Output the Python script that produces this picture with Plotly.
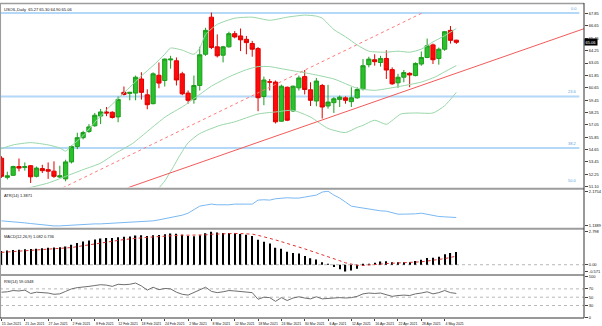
import plotly.graph_objects as go
import pandas as pd

# ---------------- data ----------------
dates = pd.bdate_range("2021-01-15", "2021-05-06")
dates = dates[dates != pd.Timestamp("2021-04-02")]
bar_index = list(range(len(dates)))

opens = [53.81, 51.95, 52.15, 53.0, 52.9, 53.08, 52.05, 52.8, 52.7, 52.55,
         51.98, 51.8, 53.45, 54.94, 55.8, 56.4, 56.96, 57.9, 58.3, 58.27,
         57.82, 60.2, 60.1, 60.13, 61.5, 59.96, 59.1, 61.86, 61.35, 63.35,
         63.27, 62.0, 60.13, 59.5, 60.87, 63.9, 67.5, 64.62, 63.81, 64.62,
         65.9, 65.68, 65.35, 64.94, 64.45, 59.8, 61.22, 61.2, 57.4, 60.7,
         58.4, 60.64, 61.73, 60.45, 59.36, 60.87, 58.88, 59.2, 59.52, 59.67,
         59.3, 59.67, 60.54, 62.89, 63.37, 63.1, 63.49, 62.41, 61.13, 61.67,
         62.05, 61.83, 62.95, 63.59, 64.81, 63.49, 64.39, 66.22, 65.27]
highs = [54.0, 52.5, 53.08, 53.78, 53.4, 53.15, 53.0, 53.17, 53.4, 53.5,
         53.08, 53.66, 55.05, 56.28, 56.47, 57.12, 58.2, 58.59, 58.78, 58.37,
         59.8, 60.77, 60.25, 61.83, 62.15, 60.5, 62.15, 63.1, 63.49, 63.75,
         63.59, 62.2, 60.38, 61.83, 64.62, 66.47, 67.95, 65.83, 64.72, 66.09,
         66.15, 66.4, 65.68, 65.2, 64.6, 61.73, 61.5, 61.35, 60.95, 60.76,
         60.86, 61.83, 62.37, 61.18, 61.6, 61.02, 60.93, 59.74, 59.9, 59.81,
         60.7, 60.7, 63.43, 63.66, 63.9, 63.75, 64.29, 62.63, 62.0, 62.37,
         62.15, 63.11, 64.17, 65.42, 64.94, 64.55, 66.16, 66.64, 65.30]
lows = [51.9, 51.75, 52.1, 52.53, 52.6, 51.4, 51.95, 52.37, 51.8, 51.9,
        51.88, 51.57, 53.3, 54.68, 55.64, 56.28, 56.86, 57.12, 57.89, 57.66,
        57.3, 59.9, 59.43, 59.43, 59.5, 58.56, 59.04, 60.6, 60.77, 62.5,
        60.87, 59.93, 59.1, 59.1, 60.38, 63.75, 64.4, 63.59, 63.11, 64.55,
        65.45, 64.2, 63.9, 63.66, 58.37, 58.95, 60.38, 57.18, 57.34, 57.41,
        58.3, 60.38, 60.0, 58.88, 58.85, 57.66, 58.62, 58.2, 58.78, 59.1,
        58.78, 59.58, 60.38, 62.63, 62.79, 62.7, 61.5, 60.93, 60.64, 61.18,
        60.7, 61.76, 62.79, 63.52, 62.95, 62.89, 64.23, 64.94, 64.90]
closes = [52.05, 52.1, 53.0, 52.85, 53.0, 52.0, 52.85, 52.6, 52.55, 52.05,
          52.1, 53.45, 54.94, 55.8, 56.3, 56.85, 57.98, 58.3, 58.2, 57.76,
          59.52, 60.0, 60.2, 61.67, 60.2, 59.0, 62.0, 61.1, 63.43, 63.43,
          61.4, 60.06, 59.43, 60.87, 63.85, 66.22, 64.55, 63.75, 64.62, 65.9,
          65.58, 65.3, 65.03, 64.39, 59.68, 61.4, 61.2, 57.34, 60.8, 57.5,
          60.8, 61.6, 60.48, 59.43, 61.3, 58.78, 59.26, 59.58, 59.74, 59.43,
          59.67, 60.48, 62.79, 63.43, 63.18, 63.49, 62.37, 61.03, 61.67, 62.12,
          61.89, 63.01, 63.59, 64.72, 63.37, 64.39, 66.09, 65.25, 65.06]

bb_upper_bars = [-0.3, 2, 5, 8, 10, 11, 12, 14, 16, 18, 20, 22, 24, 26, 28, 29, 31, 33, 34, 35,
                 37, 40, 43, 46, 49, 52, 54, 55, 57, 59, 61, 63, 66, 68, 70, 72, 74, 76, 78]
bb_upper = [54.68, 55.1, 55.32, 55.1, 54.8, 54.5, 55.0, 56.0, 57.3, 58.5, 59.6, 60.7, 61.8, 62.8,
            63.9, 64.5, 64.3, 63.9, 64.5, 65.8, 66.8, 67.4, 67.5, 67.2, 67.5, 67.7, 67.6, 67.4,
            66.3, 65.6, 64.8, 64.2, 64.1, 64.2, 64.1, 64.4, 65.1, 65.7, 66.4]
bb_mid_bars = [-0.3, 4.5, 8, 11, 14, 17, 19.6, 22.5, 25.3, 28.1, 31.3, 34, 36, 39, 42, 44, 46, 48,
               50, 53, 57, 61, 64, 67.5, 72, 74.4, 76, 78]
bb_mid = [50.2, 50.9, 51.4, 52.05, 52.7, 53.33, 54.29, 55.25, 56.54, 57.82, 58.9, 60.0, 60.8, 61.7,
          62.4, 62.7, 62.7, 62.5, 62.3, 62.0, 61.5, 60.6, 60.4, 60.7, 61.2, 61.7, 62.2, 62.8]
bb_lower_bars = [26.5, 28, 29.5, 30.5, 32, 34, 37.5, 40, 44, 47, 50, 53, 56, 59, 61, 62, 64, 66,
                 68.5, 71, 74, 76, 78]
bb_lower = [50.6, 51.6, 53.0, 54.0, 55.3, 56.2, 57.0, 57.34, 58.1, 58.3, 58.45, 57.8, 56.7, 56.3,
            56.8, 57.0, 57.5, 57.1, 58.1, 58.2, 58.2, 58.9, 60.2]

support_bars = [21.6, 100.5]
support_prices = [50.93, 66.50]
channel_bars = [10.5, 72.5]
channel_prices = [50.93, 68.0]

fib_high, fib_low = 67.9, 33.6
fib_ratios = [0.0, 23.6, 38.2, 50.0]

atr = [1.29, 1.28, 1.27, 1.26, 1.23, 1.21, 1.19, 1.17, 1.15, 1.1389,
       1.14, 1.15, 1.17, 1.19, 1.20, 1.20, 1.20, 1.20, 1.21, 1.22,
       1.23, 1.24, 1.23, 1.24, 1.25, 1.27, 1.29, 1.32, 1.35, 1.38,
       1.41, 1.46, 1.52, 1.62, 1.73, 1.76, 1.79, 1.77, 1.76, 1.77,
       1.79, 1.80, 1.79, 1.79, 1.91, 1.92, 1.91, 1.95, 1.97, 1.98,
       1.97, 1.97, 2.00, 2.03, 2.06, 2.15, 2.1754, 2.06, 1.97, 1.85,
       1.73, 1.70, 1.67, 1.64, 1.61, 1.59, 1.58, 1.54, 1.49, 1.49,
       1.49, 1.50, 1.52, 1.48, 1.44, 1.42, 1.41, 1.40, 1.39]
macd = [1.17, 1.20, 1.25, 1.28, 1.32, 1.33, 1.36, 1.40, 1.44, 1.46,
        1.48, 1.55, 1.70, 1.85, 1.97, 2.05, 2.15, 2.22, 2.27, 2.28,
        2.33, 2.37, 2.40, 2.48, 2.50, 2.45, 2.50, 2.52, 2.60, 2.66,
        2.64, 2.55, 2.45, 2.42, 2.50, 2.68, 2.798, 2.75, 2.70, 2.70,
        2.68, 2.62, 2.55, 2.45, 2.12, 1.95, 1.80, 1.45, 1.35, 1.10,
        1.00, 0.95, 0.75, 0.55, 0.45, 0.20, 0.02, -0.20, -0.38, -0.571,
        -0.50, -0.35, -0.10, 0.05, 0.15, 0.28, 0.30, 0.22, 0.20, 0.22,
        0.22, 0.32, 0.42, 0.58, 0.60, 0.68, 0.88, 1.00, 1.082]
signal = [1.05, 1.08, 1.11, 1.14, 1.18, 1.21, 1.24, 1.27, 1.31, 1.34,
          1.37, 1.40, 1.46, 1.54, 1.62, 1.71, 1.80, 1.88, 1.96, 2.02,
          2.08, 2.14, 2.19, 2.25, 2.30, 2.33, 2.36, 2.40, 2.44, 2.48,
          2.51, 2.52, 2.51, 2.50, 2.50, 2.54, 2.59, 2.62, 2.64, 2.65,
          2.66, 2.65, 2.63, 2.60, 2.50, 2.39, 2.27, 2.11, 1.96, 1.79,
          1.63, 1.50, 1.35, 1.19, 1.04, 0.87, 0.70, 0.52, 0.34, 0.16,
          0.03, -0.05, -0.06, -0.04, -0.01, 0.05, 0.10, 0.12, 0.14, 0.16,
          0.17, 0.20, 0.25, 0.31, 0.37, 0.43, 0.52, 0.62, 0.736]
rsi = [62, 63, 66, 65, 67, 59, 62, 61, 60, 57,
       58, 64, 70, 73, 74, 76, 78, 80, 79, 76,
       81, 80, 81, 84, 77, 67, 74, 68, 71, 70,
       62, 57, 55, 62, 68, 74, 64, 61, 63, 66,
       65, 64, 63, 61, 45, 50, 49, 40, 49, 42,
       48, 51, 48, 46, 51, 46, 47, 48, 49, 48,
       49, 52, 58, 60, 59, 60, 56, 52, 54, 55,
       54, 58, 60, 63, 58, 61, 66, 61, 59.03]

date_tick_bars = list(range(0, 77, 4))
date_tick_labels = ["15 Jan 2021", "21 Jan 2021", "27 Jan 2021", "2 Feb 2021", "8 Feb 2021",
                    "12 Feb 2021", "18 Feb 2021", "24 Feb 2021", "2 Mar 2021", "8 Mar 2021",
                    "12 Mar 2021", "18 Mar 2021", "24 Mar 2021", "30 Mar 2021", "6 Apr 2021",
                    "12 Apr 2021", "16 Apr 2021", "22 Apr 2021", "28 Apr 2021", "4 May 2021"]
price_ticks = [51.10, 52.25, 53.45, 54.65, 55.85, 57.05, 58.25, 59.45, 60.65, 61.85,
               63.05, 64.25, 65.45, 66.65, 67.85]
atr_ticks = [2.1754, 1.1389]
macd_ticks = [2.798, 0.0, -0.571]
macd_ticktext = ["2.798", "0.00", "-0.571"]
rsi_ticks = [100, 70, 50, 30, 0]
rsi_levels = [70, 50, 30]
last_price = 65.06

header_main = "USOIL,Daily  65.27 65.30 64.90 65.06"
header_atr = "ATR(14) 1.3871"
header_macd = "MACD(12,26,9) 1.082 0.736"
header_rsi = "RSI(14) 59.0348"

# ---------------- figure ----------------
FONT = "Liberation Sans"
FS = 4.0
XFS = 3.5
xr = [-0.256, 99.9]
yr_main = [50.99, 68.78]

fig = go.Figure()
fig.add_trace(go.Candlestick(
    x=bar_index, open=opens, high=highs, low=lows, close=closes,
    xaxis="x", yaxis="y", whiskerwidth=0,
    increasing=dict(line=dict(color="#1c9c1c", width=1), fillcolor="#2ac22a"),
    decreasing=dict(line=dict(color="#e00000", width=1), fillcolor="#ff0a0a"),
    hoverinfo="skip", showlegend=False))

band_style = dict(color="#98d6a8", width=1, shape="spline", smoothing=0.6)
for bx, by in [(bb_upper_bars, bb_upper), (bb_mid_bars, bb_mid), (bb_lower_bars, bb_lower)]:
    fig.add_trace(go.Scatter(x=bx, y=by, mode="lines", line=band_style,
                             xaxis="x", yaxis="y", hoverinfo="skip", showlegend=False))

fig.add_trace(go.Scatter(x=support_bars, y=support_prices, mode="lines",
                         line=dict(color="#f25a5a", width=1), xaxis="x", yaxis="y",
                         hoverinfo="skip", showlegend=False))
fig.add_trace(go.Scatter(x=channel_bars, y=channel_prices, mode="lines",
                         line=dict(color="#ff7a7a", width=1, dash="dot"), xaxis="x", yaxis="y",
                         hoverinfo="skip", showlegend=False))

fig.add_trace(go.Scatter(x=bar_index, y=atr, mode="lines", line=dict(color="#7ab8f2", width=1),
                         xaxis="x2", yaxis="y2", hoverinfo="skip", showlegend=False))

fig.add_trace(go.Bar(x=bar_index, y=macd, width=0.22, marker=dict(color="#000000", line=dict(width=0)),
                     xaxis="x3", yaxis="y3", hoverinfo="skip", showlegend=False))
fig.add_trace(go.Scatter(x=bar_index, y=signal, mode="lines",
                         line=dict(color="#e23030", width=1, dash="dot"),
                         xaxis="x3", yaxis="y3", hoverinfo="skip", showlegend=False))

fig.add_trace(go.Scatter(x=bar_index, y=rsi, mode="lines", line=dict(color="#6e6e6e", width=1),
                         xaxis="x4", yaxis="y4", hoverinfo="skip", showlegend=False))

PH = 318.0
def dom(top_px, bot_px):
    return [(PH - bot_px) / PH, (PH - top_px) / PH]

def ypx(px):
    return (PH - px) / PH

base_x = dict(range=xr, showgrid=False, zeroline=False, showline=False, fixedrange=True)
yfont = dict(family=FONT, size=FS, color="#111")
base_y = dict(side="right", showgrid=False, zeroline=False, showline=False, ticks="outside",
              ticklen=3, tickwidth=1, tickcolor="#444", tickfont=yfont, fixedrange=True)

fig.update_layout(
    width=602, height=326, autosize=False,
    margin=dict(l=0, r=14, t=0, b=8, pad=0),
    paper_bgcolor="white", plot_bgcolor="white",
    hovermode=False, showlegend=False,
    boxgap=0.15, boxgroupgap=0.15,
    xaxis=dict(base_x, domain=[0, 1], anchor="y", showticklabels=False, matches="x4",
               rangeslider=dict(visible=False)),
    xaxis2=dict(base_x, domain=[0, 1], anchor="y2", showticklabels=False, matches="x4"),
    xaxis3=dict(base_x, domain=[0, 1], anchor="y3", showticklabels=False, matches="x4"),
    xaxis4=dict(base_x, domain=[0, 1], anchor="y4", tickmode="array",
                tickvals=date_tick_bars, ticktext=date_tick_labels, ticks="outside",
                ticklen=2, tickcolor="#444", tickangle=0,
                tickfont=dict(family=FONT, size=XFS, color="#111"),
                ticklabelshift=10, ticklabelstandoff=0),
    yaxis=dict(base_y, domain=dom(1, 186), anchor="x", range=yr_main,
               tickmode="array", tickvals=price_ticks, ticktext=[f"{v:.2f}" for v in price_ticks]),
    yaxis2=dict(base_y, domain=dom(189, 227), anchor="x2", range=[1.081, 2.205],
                tickmode="array", tickvals=atr_ticks, ticktext=[f"{v:.4f}" for v in atr_ticks]),
    yaxis3=dict(base_y, domain=dom(229, 273), anchor="x3", range=[-0.74, 2.966],
                tickmode="array", tickvals=macd_ticks, ticktext=macd_ticktext),
    yaxis4=dict(base_y, domain=dom(276, 318), anchor="x4", range=[0, 100],
                tickmode="array", tickvals=rsi_ticks, ticktext=[str(v) for v in rsi_ticks]),
)

shapes = []
fib_end = xr[0] + 0.992 * (xr[1] - xr[0])
annotations = []
for r in fib_ratios:
    lvl = fib_high - r / 100.0 * (fib_high - fib_low)
    shapes.append(dict(type="line", xref="x", yref="y", x0=xr[0], x1=fib_end, y0=lvl, y1=lvl,
                       line=dict(color="#b3d8f8", width=2), layer="below"))
    label_y = max(lvl, yr_main[0] + 0.2)
    annotations.append(dict(xref="paper", yref="y", x=0.992, y=label_y, xanchor="right",
                            yanchor="bottom", text=f"{r:.1f}", showarrow=False,
                            font=dict(family=FONT, size=FS, color="#5a9fe0")))
for lv in rsi_levels:
    shapes.append(dict(type="line", xref="x4 domain", yref="y4", x0=0, x1=1, y0=lv, y1=lv,
                       line=dict(color="#b8b8b8", width=1, dash="dot"), layer="below"))
shapes.append(dict(type="line", xref="x3 domain", yref="y3", x0=0, x1=1, y0=0, y1=0,
                   line=dict(color="#b8b8b8", width=1, dash="dot"), layer="below"))
for py in [187.5, 228.0, 274.5]:
    shapes.append(dict(type="line", xref="paper", yref="paper", x0=0, x1=1, y0=ypx(py), y1=ypx(py),
                       line=dict(color="#9c9c9c", width=2)))
shapes.append(dict(type="line", xref="paper", yref="paper", x0=0, x1=1, y0=ypx(0.5), y1=ypx(0.5),
                   line=dict(color="#9c9c9c", width=1.5)))
shapes.append(dict(type="line", xref="paper", yref="paper", x0=0.0005, x1=0.0005, y0=0, y1=1,
                   line=dict(color="#9c9c9c", width=1.5)))
shapes.append(dict(type="line", xref="paper", yref="paper", x0=1, x1=1, y0=0, y1=1,
                   line=dict(color="#333333", width=1)))
shapes.append(dict(type="line", xref="paper", yref="paper", x0=0, x1=1, y0=0, y1=0,
                   line=dict(color="#333333", width=1)))

hdr_font = dict(family=FONT, size=FS, color="#111")
for txt, py in [(header_main, 2), (header_atr, 190), (header_macd, 231), (header_rsi, 277)]:
    annotations.append(dict(xref="paper", yref="paper", x=0.004, y=ypx(py), xanchor="left",
                            yanchor="top", text=txt, showarrow=False, font=hdr_font))
annotations.append(dict(xref="paper", yref="y", x=1.0, y=last_price, xanchor="left", yanchor="middle",
                        text=f"{last_price:.2f}", showarrow=False, bgcolor="#000000",
                        borderpad=0.5, font=dict(family=FONT, size=FS, color="#ffffff")))

fig.update_layout(shapes=shapes, annotations=annotations)
fig.write_html("out.html")
